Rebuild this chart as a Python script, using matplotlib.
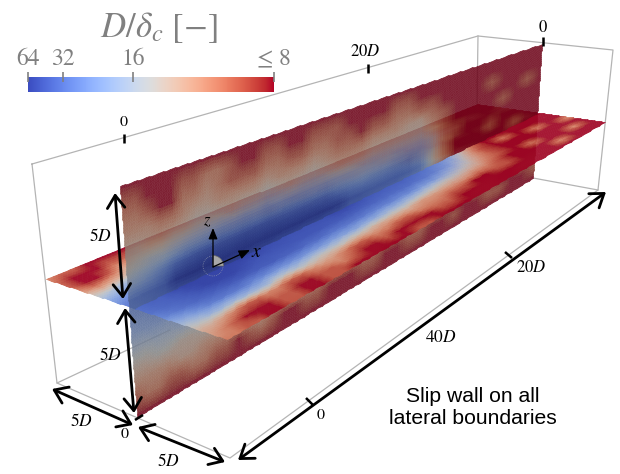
import numpy as np
import matplotlib
matplotlib.use("Agg")
import matplotlib.pyplot as plt
from matplotlib.colors import ListedColormap, Normalize
from matplotlib.cm import ScalarMappable
from matplotlib.patches import FancyArrowPatch, Wedge, Circle

plt.rcParams['mathtext.fontset'] = 'stix'
plt.rcParams['font.family'] = 'STIXGeneral'

vertical_field = [
 [8,8,8,8,8,8,8,8,8,8, 8,8,8,8,8,8,8,8,8,8, 8,8,8,8,8,8,8,8,8,8, 8,8,8,8,8,8],
 [9,9,8,8,8,9,9,10,10,9, 8,8,9,9,8,8,9,9,9,8, 8,8,8,9,9,8,8,8,8,8, 8,8,8,8,8,8],
 [10,10,9,8,8,10,10,11,10,9, 9,9,10,10,9,9,10,10,9,9, 8,9,9,10,10,9,9,8,8,8, 8,9,8,8,8,8],
 [11,11,11,10,10,11,12,12,11,11, 11,11,12,11,11,11,12,11,10,10, 10,11,11,11,12,12,10,9,8,8, 8,8,8,8,9,8],
 [13,13,12,12,13,13,14,14,14,13, 14,14,15,14,13,14,14,13,12,12, 12,13,13,13,13,13,11,9,8,8, 8,8,9,8,8,8],
 [14,15,16,16,18,20,21,22,24,24, 25,24,26,24,24,23,22,22,20,19, 18,18,17,18,17,17,14,10,9,8, 8,8,8,8,8,8],
 [17,18,20,24,32,38,40,42,45,45, 48,45,46,44,42,42,40,38,30,26, 24,25,26,28,30,22,15,10,8,8, 8,9,8,8,8,8],
 [26,28,30,34,58,62,64,64,64,64, 64,64,64,64,64,62,62,60,56,36, 34,32,32,32,30,26,14,10,8,8, 8,8,8,9,8,8],
 [24,25,27,28,30,32,34,34,36,36, 36,34,34,32,32,32,30,30,28,26, 26,24,24,22,20,18,13,10,8,8, 8,8,8,8,8,8],
 [20,21,22,22,23,24,24,25,24,24, 22,22,22,20,20,19,18,18,17,16, 16,16,15,14,14,13,12,9,8,8, 8,8,8,8,8,8],
 [16,16,17,17,18,18,17,16,16,16, 15,15,15,15,14,14,14,13,13,13, 13,12,12,12,12,11,10,9,8,8, 8,8,8,8,8,8],
 [13,13,14,14,13,13,14,14,13,13, 12,12,12,12,11,11,11,11,11,10, 10,10,10,10,10,9,9,8,8,8, 8,8,8,8,8,8],
 [11,11,11,11,12,12,11,11,11,11, 12,12,11,11,12,11,11,10,10,10, 10,10,9,9,10,10,9,9,8,8, 9,9,8,8,9,9],
 [9,10,10,9,9,10,10,9,9,8, 9,10,9,8,8,9,9,8,8,8, 9,9,8,8,9,9,8,8,9,8, 8,9,9,8,8,9],
 [8,8,8,8,8,8,8,8,8,8, 8,8,8,8,8,8,8,8,8,8, 8,8,8,8,8,8,8,8,8,8, 8,8,8,8,8,8],
]

horizontal_field = [
 [10,9,9,8,8,8,8,8,8,8, 8,8,8,8,8,8,8,8,8,8, 8,8,8,8,8,8,8,8,8,8, 8,8,8,8,8,8],
 [9,8,8,8,9,9,9,10,10,9, 9,9,9,9,8,8,8,8,8,8, 8,8,8,8,8,8,8,8,8,8, 8,10,8,8,8,8],
 [9,8,8,9,11,11,12,12,11,11, 11,11,11,10,10,10,10,10,9,9, 9,9,9,9,8,8,8,8,8,8, 8,8,8,10,8,8],
 [11,10,11,12,14,14,15,15,14,14, 14,14,13,13,13,12,12,12,11,11, 11,11,10,10,10,9,9,8,8,8, 8,8,8,8,8,10],
 [15,16,18,20,22,24,26,26,25,26, 24,24,22,22,22,20,20,20,18,18, 16,15,14,14,13,12,10,9,8,8, 10,8,8,8,8,8],
 [22,24,28,32,36,38,38,40,40,38, 38,36,34,34,32,32,32,30,28,28, 26,24,22,20,18,15,12,10,9,8, 8,8,10,8,8,8],
 [30,34,38,42,50,54,58,58,54,50, 50,48,48,46,46,44,44,42,40,38, 36,34,32,30,28,22,15,11,9,8, 8,8,8,8,10,8],
 [36,40,42,50,62,64,64,64,64,64, 60,54,52,50,50,50,50,56,58,52, 46,44,42,42,38,34,28,22,14,10, 8,8,8,8,8,8],
 [34,38,40,44,52,62,64,64,58,50, 48,48,48,48,48,48,46,46,44,42, 40,38,38,36,34,30,24,17,12,9, 8,10,8,8,8,8],
 [28,32,36,40,42,44,46,46,44,44, 44,42,42,38,38,34,34,34,32,30, 30,28,28,24,24,20,17,14,11,9, 8,8,8,10,8,8],
 [20,22,26,30,32,32,32,28,28,26, 26,26,24,24,22,22,22,20,20,18, 18,17,16,15,14,14,13,12,10,9, 8,8,8,8,8,10],
 [15,16,18,18,17,18,18,18,15,15, 16,15,14,14,14,13,13,12,12,12, 12,11,11,11,11,11,10,10,9,8, 8,10,8,8,8,8],
 [12,12,11,10,9,9,10,10,9,9, 10,11,11,10,9,9,10,10,9,9, 10,10,10,9,9,8,8,9,9,8, 8,8,8,8,10,8],
 [11,10,9,8,8,8,9,9,8,8, 9,9,10,9,8,8,9,8,8,8, 8,9,9,8,8,8,8,8,8,8, 8,8,10,8,8,8],
 [10,10,9,9,8,8,9,9,8,8, 9,9,8,8,8,8,8,8,9,9, 8,8,8,8,8,8,8,8,8,8, 8,8,8,8,8,8],
]

colorbar_ticks = [64, 32, 16, 8]
colorbar_labels = ['64', '32', '16', '≤ 8']

fig = plt.figure(figsize=(6.2, 4.74), dpi=100)
ax = fig.add_axes([0, 0, 1, 1])
ax.set_xlim(0, 620)
ax.set_ylim(474, 0)
ax.axis('off')

norm = Normalize(1 / 64, 1 / 8)
base = plt.get_cmap('coolwarm')(np.linspace(0, 1, 256))


def shaded_map(factor):
    c = base.copy()
    c[:, :3] *= factor
    return ListedColormap(c)


def refine(field, n=5):
    field = np.asarray(field, float)
    rows, cols = field.shape
    ri = np.linspace(0, rows - 1, (rows - 1) * n + 1)
    ci = np.linspace(0, cols - 1, (cols - 1) * n + 1)
    along = np.array([np.interp(ci, np.arange(cols), r) for r in field])
    return np.array([np.interp(ri, np.arange(rows), c) for c in along.T]).T


def sheet(corner_a0, corner_a1, corner_b0, corner_b1, shape):
    """Screen grid (cell corners) spanned by the four projected corners of a slice."""
    rows, cols = shape
    t, v = np.meshgrid(np.linspace(0, 1, cols + 1), np.linspace(0, 1, rows + 1))
    t, v = t[..., None], v[..., None]
    a0, a1, b0, b1 = map(np.array, (corner_a0, corner_a1, corner_b0, corner_b1))
    p = (a0 * (1 - t) + a1 * t) * (1 - v) + (b0 * (1 - t) + b1 * t) * v
    return p[..., 0], p[..., 1]


def layer_alpha(opacity):
    """Whole-sheet translucency: the opaque mesh is composited as one layer."""
    def apply(image, dpi):
        out = image.copy()
        out[..., 3] = np.clip(out[..., 3], 0, 1) * opacity
        return out, 0, 0
    return apply


def draw_sheet(x, y, c, cmap, opacity, zorder):
    mesh = ax.pcolormesh(x, y, c, shading='flat', cmap=cmap, norm=norm, zorder=zorder,
                         edgecolors='face', linewidth=0.4, antialiased=True)
    mesh.set_agg_filter(layer_alpha(opacity))
    return mesh


# bounding box
box_color = '#b4b4b4'
for path in ([(32, 164), (478, 36), (613, 50), (598, 190), (230, 458), (57, 383), (32, 164)],
             [(478, 36), (477, 104)], [(598, 190), (533, 178)], [(57, 383), (170, 330)]):
    xs, ys = zip(*path)
    ax.plot(xs, ys, color=box_color, lw=0.9, zorder=1)

Cv = refine(1 / np.array(vertical_field, float))
Ch = refine(1 / np.array(horizontal_field, float))

HX, HY = sheet((46, 279), (477, 104), (227, 339), (605, 122), Ch.shape)
VX, VY = sheet((120, 186), (542, 44), (137, 417), (533, 178), Cv.shape)

mid = Ch.shape[0] // 2
horizontal_cmap = shaded_map(0.88)
draw_sheet(HX[:mid + 1], HY[:mid + 1], Ch[:mid], horizontal_cmap, 0.95, 2)
draw_sheet(VX, VY, Cv, shaded_map(0.6), 0.88, 3)
draw_sheet(HX[mid:], HY[mid:], Ch[mid:], horizontal_cmap, 0.92, 4)

# dimension arrows
arrows = [((115, 193), (123, 299)), ((125, 308), (134, 413)),
          ((52, 389), (133, 425)), ((138, 427), (225, 462)),
          ((238, 460), (606, 192))]
for a, b in arrows:
    ax.add_patch(FancyArrowPatch(a, b, arrowstyle='<->,head_length=3.0,head_width=2.1',
                                 mutation_scale=3.0, lw=2, color='black',
                                 shrinkA=0, shrinkB=0, zorder=6))

# tick marks
for a, b in [((124, 134), (124, 143)), ((368, 64), (368, 73)), ((543, 37), (543, 46)),
             ((135, 420), (143, 415)), ((505, 252), (512, 258)), ((306, 398), (313, 405))]:
    ax.plot([a[0], b[0]], [a[1], b[1]], color='black', lw=1.8, zorder=7, solid_capstyle='butt')

# orientation triad
ax.add_patch(Circle((213, 266), 10, fill=False, ec='#9aa0b0', lw=0.5, ls=':', zorder=5))
ax.add_patch(Wedge((213, 266), 10.5, 270, 360, fc='#a8a8a8', ec='#666666', lw=0.5, zorder=6))
ax.add_patch(FancyArrowPatch((213, 267), (213, 228), arrowstyle='-|>,head_length=2.2,head_width=0.9',
                             mutation_scale=3.0, lw=0.9, color='black', shrinkA=0, shrinkB=0, zorder=7))
ax.add_patch(FancyArrowPatch((213, 267), (250, 250), arrowstyle='-|>,head_length=2.2,head_width=0.9',
                             mutation_scale=3.0, lw=0.9, color='black', shrinkA=0, shrinkB=0, zorder=7))

labels = [(124, 122, '$0$', 11.5), (365, 52, '$20D$', 12), (543, 28, '$0$', 12),
          (100, 236, '$5D$', 12.5), (110, 356, '$5D$', 12.5), (81, 421, '$5D$', 12.5),
          (168, 462, '$5D$', 12.5), (125, 434, '$0$', 11.5), (441, 338, '$40D$', 12.5),
          (531, 268, '$20D$', 12), (321, 415, '$0$', 11.5),
          (207, 221, '$z$', 12), (257, 252, '$x$', 14)]
for x, y, s, fs in labels:
    ax.text(x, y, s, fontsize=fs, ha='center', va='center', color='black', zorder=8)

ax.text(473, 407, 'Slip wall on all\nlateral boundaries', fontsize=15.2, ha='center', va='center',
        family='Liberation Sans', color='black', linespacing=1.2, zorder=8)
ax.text(159, 28, r'$D/\delta_c\ [-]$', fontsize=25, ha='center', va='center', color='#808080', zorder=8)

# colour bar, linear in delta_c/D
cax = fig.add_axes([28 / 620, 1 - 92 / 474, 245.5 / 620, 15 / 474])
cb = fig.colorbar(ScalarMappable(norm=norm, cmap='coolwarm'), cax=cax, orientation='horizontal',
                  ticks=[1 / t for t in colorbar_ticks])
cb.set_ticklabels(colorbar_labels)
cb.outline.set_visible(False)
cb.ax.xaxis.set_ticks_position('top')
cb.ax.tick_params(axis='x', which='major', direction='inout', length=6.5, width=1.2,
                  color='#808080', labelcolor='#808080', labelsize=17, pad=2)
cb.ax.tick_params(axis='x', which='minor', length=0)

fig.savefig('out.png', dpi=100)
